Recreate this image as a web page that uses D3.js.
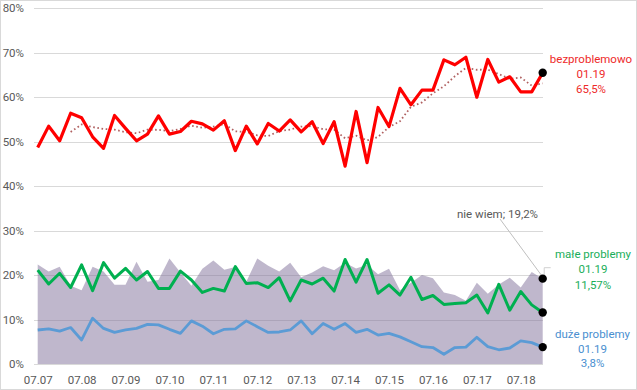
<!DOCTYPE html>
<html><head><meta charset="utf-8">
<script src="https://cdn.jsdelivr.net/npm/d3@7"></script>
<style>
html,body{margin:0;padding:0;background:#fff;}
svg{display:block;font-family:Roboto,"Open Sans",sans-serif;}
</style></head>
<body>
<svg id="chart" width="637" height="390"></svg>
<script>
const categories = ["07.07","10.07","01.08","04.08","07.08","10.08","01.09","04.09","07.09","10.09","01.10","04.10","07.10","10.10","01.11","04.11","07.11","10.11","01.12","04.12","07.12","10.12","01.13","04.13","07.13","10.13","01.14","04.14","07.14","10.14","01.15","04.15","07.15","10.15","01.16","04.16","07.16","10.16","01.17","04.17","07.17","10.17","01.18","04.18","07.18","10.18","01.19"];
const bezproblemowo = [48.7,53.5,50.2,56.4,55.4,51.1,48.5,55.9,53.0,50.2,51.7,55.8,51.7,52.3,54.6,54.0,52.6,54.7,48.0,53.5,49.5,54.1,52.4,54.9,52.2,54.5,49.6,54.5,44.5,56.8,45.3,57.7,53.4,62.0,58.3,61.6,61.6,68.4,67.3,69.0,60.0,68.5,63.4,64.6,61.2,61.2,65.5];
const maleProblemy = [21.1,18.0,20.4,17.2,22.3,16.5,22.8,19.3,21.5,18.9,20.8,17.0,17.0,20.9,18.9,16.1,17.0,16.4,21.9,18.1,18.3,17.2,19.4,14.2,18.9,18.0,19.3,16.4,23.5,18.4,23.5,15.9,17.8,15.5,19.5,14.5,15.4,13.4,13.6,13.8,15.5,11.5,17.9,12.1,16.3,13.3,11.57];
const duzeProblemy = [7.65,7.9,7.4,8.2,5.4,10.3,8.0,7.1,7.65,8.0,8.9,8.8,7.8,6.9,9.7,8.5,6.8,7.8,7.9,9.7,8.4,7.1,7.2,7.65,9.7,6.8,9.1,7.8,9.1,7.1,7.8,6.5,6.9,6.1,5.0,3.9,3.7,2.2,3.7,3.8,6.0,3.9,3.2,3.6,5.2,4.8,3.8];
const nieWiem = [22.4,20.8,21.9,17.6,16.6,21.9,20.8,17.8,17.8,23.0,18.5,18.9,23.7,20.6,17.6,21.4,23.3,21.2,21.8,18.5,23.7,22.1,20.8,22.8,19.5,20.6,22.0,21.1,22.8,21.5,22.3,20.2,21.4,16.6,18.3,20.0,19.3,16.1,15.5,14.2,18.3,15.8,17.9,19.4,17.2,20.7,19.2];
const yTicks = [0,10,20,30,40,50,60,70,80];
const xTickLabels = ["07.07","07.08","07.09","07.10","07.11","07.12","07.13","07.14","07.15","07.16","07.17","07.18"];
const trendPeriod = 4; // Excel moving-average trendline on "bezproblemowo"

const svg = d3.select("#chart");
const W = 637, H = 390;
const x = d3.scalePoint().domain(categories).range([37.7, 542.7]);
const y = d3.scaleLinear().domain([0, 80]).range([364, 8.3]);
const gridX0 = 34, gridX1 = 543;

// chart border
svg.append("rect").attr("x",0.5).attr("y",0.5).attr("width",W-1).attr("height",H-1)
  .attr("fill","#fff").attr("stroke","#d9d9d9");

// gridlines
svg.append("g").selectAll("line").data(yTicks).join("line")
  .attr("x1",gridX0).attr("x2",gridX1)
  .attr("y1",d=>Math.round(y(d))+0.5).attr("y2",d=>Math.round(y(d))+0.5)
  .attr("stroke","#d9d9d9").attr("stroke-width",1);

// y axis labels
const yAxis = d3.axisLeft(y).tickValues(yTicks).tickSize(0).tickPadding(10).tickFormat(d=>d+"%");
const gy = svg.append("g").attr("transform",`translate(${gridX0},0)`).call(yAxis);
gy.select(".domain").remove();
gy.selectAll("text").attr("fill","#595959").style("font-size","11.5px").style("font-family","Roboto,sans-serif");

// x axis labels
const xAxis = d3.axisBottom(x).tickValues(xTickLabels).tickSize(0).tickPadding(12);
const gx = svg.append("g").attr("transform",`translate(0,${y(0)})`).call(xAxis);
gx.select(".domain").remove();
gx.selectAll("text").attr("fill","#595959").style("font-size","11.5px").style("font-family","Roboto,sans-serif");

// area "nie wiem"
const area = d3.area().x((d,i)=>x(categories[i])).y0(y(0)).y1(d=>y(d));
svg.append("path").datum(nieWiem).attr("d",area)
  .attr("fill","#7f6f99").attr("fill-opacity",0.5);

const line = d3.line().x((d,i)=>x(categories[i])).y(d=>y(d)).curve(d3.curveLinear);

svg.append("path").datum(duzeProblemy).attr("d",line)
  .attr("fill","none").attr("stroke","#5b9bd5").attr("stroke-width",2.8).attr("stroke-linejoin","round");
svg.append("path").datum(maleProblemy).attr("d",line)
  .attr("fill","none").attr("stroke","#00b050").attr("stroke-width",3).attr("stroke-linejoin","round");

// moving average trendline
const trend = bezproblemowo.map((v,i)=> i < trendPeriod-1 ? null : d3.mean(bezproblemowo.slice(i-trendPeriod+1,i+1)));
svg.append("path").datum(trend)
  .attr("d", d3.line().defined(d=>d!==null).x((d,i)=>x(categories[i])).y(d=>y(d)))
  .attr("fill","none").attr("stroke","#b06060").attr("stroke-width",1.8)
  .attr("stroke-dasharray","1.6,2.6");

svg.append("path").datum(bezproblemowo).attr("d",line)
  .attr("fill","none").attr("stroke","#ff0000").attr("stroke-width",3.2).attr("stroke-linejoin","round");

// leader line for "nie wiem"
const last = categories[categories.length-1];
const lx = x(last);
svg.append("line").attr("x1",500).attr("y1",219).attr("x2",lx-1).attr("y2",y(nieWiem[nieWiem.length-1])-3)
  .attr("stroke","#bfbfbf").attr("stroke-width",1);
svg.append("polyline").attr("points",`${lx+8},267.7 ${lx+1.5},267.7 ${lx+1.5},277`)
  .attr("fill","none").attr("stroke","#d0d0d0").attr("stroke-width",1);

// end markers
const ends = [bezproblemowo, maleProblemy, duzeProblemy, nieWiem].map(s=>s[s.length-1]);
svg.append("g").selectAll("circle").data(ends).join("circle")
  .attr("cx",lx).attr("cy",d=>y(d)).attr("r",4.2).attr("fill","#000");

// labels
const labels = [
  {lines:["bezproblemowo","01.19","65,5%"], cx:591, cy:[59,74,89], color:"#ee2a2a"},
  {lines:["małe problemy","01.19","11,57%"], cx:593, cy:[254,269.3,284.7], color:"#1aae5a"},
  {lines:["duże problemy","01.19","3,8%"], cx:592.5, cy:[334,348.5,363], color:"#4a8fd0"},
  {lines:["nie wiem; 19,2%"], cx:497.5, cy:[214], color:"#595959"}
];
labels.forEach(l=>{
  l.lines.forEach((t,i)=>{
    svg.append("text").attr("x",l.cx).attr("y",l.cy[i]).attr("dy","0.35em")
      .attr("text-anchor","middle").attr("fill",l.color)
      .style("font-size","11.5px").style("font-family","Roboto,sans-serif").text(t);
  });
});
</script>
</body></html>
